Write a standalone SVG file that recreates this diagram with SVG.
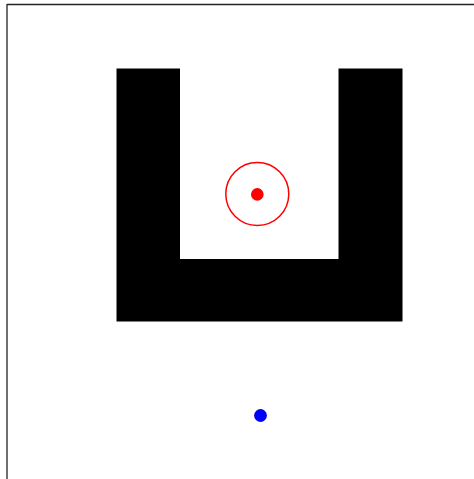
<svg xmlns="http://www.w3.org/2000/svg" width="474" height="479" viewBox="0 0 474 479">
<style>
.axis{stroke:#222;stroke-width:1.3;fill:none}
</style>
<rect width="474" height="479" fill="#fff"/>
<g id="axes">
<line class="axis" x1="7" y1="4.5" x2="474" y2="4.5"/>
<line class="axis" x1="7" y1="4" x2="7" y2="479"/>
</g>
<g id="obstacle">
<path d="M116.5,68.5 H180 V259 H338.5 V68.5 H402.5 V321.5 H116.5 Z" fill="#000"/>
</g>
<g id="goal">
<circle cx="257.3" cy="194" r="31.5" fill="none" stroke="#f00" stroke-width="1.5"/>
<circle cx="257.3" cy="194.4" r="6.3" fill="#f00"/>
</g>
<g id="start">
<circle cx="260.5" cy="415.5" r="6.4" fill="#00f"/>
</g>
</svg>
